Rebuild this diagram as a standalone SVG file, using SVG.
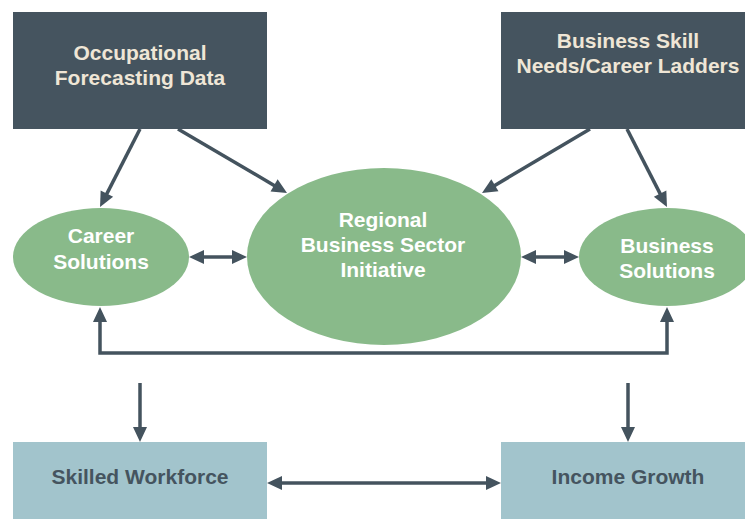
<svg xmlns="http://www.w3.org/2000/svg" width="745" height="519" viewBox="0 0 745 519">
<style>
  .dark{fill:#45545f}
  .ell{fill:#89ba8a}
  .light{fill:#a2c4cc}
  text{font-family:"Liberation Sans",Arial,sans-serif;font-weight:bold;font-size:21px;text-anchor:middle}
  .tcream{fill:#efe6d6}
  .twhite{fill:#ffffff}
  .tdark{fill:#45545f}
  .conn{stroke:#44535e;stroke-width:3.5;fill:none;marker-end:url(#ah)}
  .both{marker-start:url(#ah)}
</style>
<defs>
  <marker id="ah" markerUnits="userSpaceOnUse" markerWidth="15" markerHeight="14" refX="5" refY="7" orient="auto-start-reverse" overflow="visible">
    <path d="M0,0 L15,7 L0,14 z" fill="#44535e"/>
  </marker>
</defs>
<rect width="745" height="519" fill="#ffffff"/>
<g id="occupational">
  <rect class="dark" x="13" y="12" width="254" height="117"/>
  <text class="tcream" x="140" y="60">Occupational</text>
  <text class="tcream" x="140" y="85">Forecasting Data</text>
</g>
<g id="business-skill">
  <rect class="dark" x="501" y="12" width="254" height="117"/>
  <text class="tcream" x="628" y="48">Business Skill</text>
  <text class="tcream" x="628" y="73">Needs/Career Ladders</text>
</g>
<g id="career">
  <ellipse class="ell" cx="101" cy="257" rx="88" ry="49"/>
  <text class="twhite" x="101" y="243">Career</text>
  <text class="twhite" x="101" y="269">Solutions</text>
</g>
<g id="regional">
  <ellipse class="ell" cx="384" cy="256.5" rx="137" ry="88.5"/>
  <text class="twhite" x="383" y="227">Regional</text>
  <text class="twhite" x="383" y="252">Business Sector</text>
  <text class="twhite" x="383" y="277">Initiative</text>
</g>
<g id="business-solutions">
  <ellipse class="ell" cx="667" cy="257" rx="88" ry="49"/>
  <text class="twhite" x="667" y="253">Business</text>
  <text class="twhite" x="667" y="278">Solutions</text>
</g>
<g id="skilled">
  <rect class="light" x="13" y="442" width="254" height="90"/>
  <text class="tdark" x="140" y="484">Skilled Workforce</text>
</g>
<g id="income">
  <rect class="light" x="501" y="442" width="254" height="90"/>
  <text class="tdark" x="628" y="484">Income Growth</text>
</g>
<g id="connectors">
  <line class="conn" x1="140" y1="129" x2="104.6" y2="198.1"/>
  <line class="conn" x1="178" y1="129" x2="278.4" y2="187.9"/>
  <line class="conn" x1="590" y1="129" x2="490.6" y2="187.9"/>
  <line class="conn" x1="627" y1="129" x2="662.4" y2="198.1"/>
  <line class="conn both" x1="199" y1="257" x2="237" y2="257"/>
  <line class="conn both" x1="531" y1="257" x2="569" y2="257"/>
  <path class="conn both" d="M100,317 V353 H667 V317"/>
  <line class="conn" x1="140" y1="383" x2="140" y2="432"/>
  <line class="conn" x1="628" y1="383" x2="628" y2="432"/>
  <line class="conn both" x1="277" y1="483" x2="491" y2="483"/>
</g>
</svg>
